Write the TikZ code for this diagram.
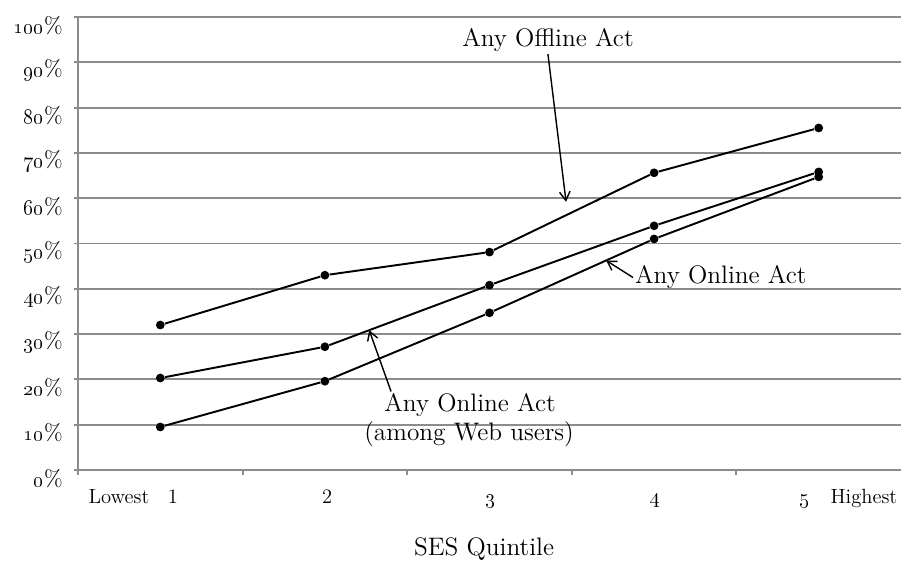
\documentclass[tikz,border=0pt]{standalone}
\usetikzlibrary{arrows.meta, positioning, calc}
\definecolor{gridgray}{RGB}{140,140,140}

\begin{document}
\begin{tikzpicture}[
    x=3.292cm, y=0.0906cm,
    grid/.style={gridgray, line width=1.1pt},
    axisline/.style={gridgray, line width=1.5pt},
    series/.style={line width=1.1pt, line join=round},
    dot/.style={circle, fill=black, inner sep=0pt, minimum size=5pt},
    ylab/.style={anchor=east, inner sep=0pt, font=\fontsize{13}{15}\selectfont},
    xlab/.style={anchor=base, inner sep=0pt, font=\fontsize{11.7}{14}\selectfont},
    callout/.style={inner sep=1pt, font=\fontsize{14.4}{17}\selectfont},
    pointer/.style={-{Straight Barb[length=5pt,width=6pt]}, line width=0.8pt}
]
    \useasboundingbox (-1.56cm,-1.8cm) rectangle (16.46cm,9.4cm);

    % Gridlines and percent labels
    \foreach \p in {0,10,...,100} {
        \draw[grid] (-0.024,\p) -- (5,\p);
        \node[ylab] (ytick\p) at (-0.091,\p-1.8) {\oldstylenums{\p}\%};
    }
    \draw[axisline] (0,-1.1) -- (0,100);
    \foreach \k in {1,...,4}
        \draw[grid] (\k,0) -- (\k,-1.1);

    % Quintile labels
    \node[xlab] (lowest) at (0.249,-7.5) {Lowest};
    \node[xlab] (q1) at (0.577,-7.5) {1};
    \node[xlab] (q2) at (1.513,-7.5) {2};
    \node[xlab] (q3) at (2.509,-7.5) {\oldstylenums{3}};
    \node[xlab] (q4) at (3.505,-7.5) {\oldstylenums{4}};
    \node[xlab] (q5) at (4.417,-7.5) {\oldstylenums{5}};
    \node[xlab] (highest) at (4.775,-7.5) {Highest};
    \node[callout, anchor=base] (xtitle) at (2.467,-18.8) {SES Quintile};

    % Any offline act
    \foreach \v [count=\k] in {32,43,48.1,65.6,75.5}
        \node[dot] (off\k) at (\k-0.5,\v) {};
    \draw[series] (off1) -- (off2) -- (off3) -- (off4) -- (off5);

    % Any online act among web users
    \foreach \v [count=\k] in {20.3,27.2,40.8,53.9,65.8}
        \node[dot] (web\k) at (\k-0.5,\v) {};
    \draw[series] (web1) -- (web2) -- (web3) -- (web4) -- (web5);

    % Any online act
    \foreach \v [count=\k] in {9.5,19.6,34.7,51,64.7}
        \node[dot] (onl\k) at (\k-0.5,\v) {};
    \draw[series] (onl1) -- (onl2) -- (onl3) -- (onl4) -- (onl5);

    % Callouts
    \node[callout, anchor=base] (offlbl) at (2.855,93.4) {Any Offline Act};
    \coordinate (offtip) at (2.965,59.2);
    \draw[pointer] (offlbl.south) -- (offtip);

    \node[callout, anchor=base west] (onllbl) at (3.372,41.06) {Any Online Act};
    \path (onl3) -- (onl4) coordinate[pos=0.72] (onltip);
    \draw[pointer] (onllbl.west) -- (onltip);

    \node[callout, anchor=base] (weblbl) at (2.382,12.87) {Any Online Act};
    \node[callout, anchor=base] (websub) at (2.376,6.62) {(among Web users)};
    \path (web2) -- (web3) coordinate[pos=0.256] (webtip);
    \draw[pointer] ([xshift=5pt]weblbl.north west) -- (webtip);

\end{tikzpicture}
\end{document}
